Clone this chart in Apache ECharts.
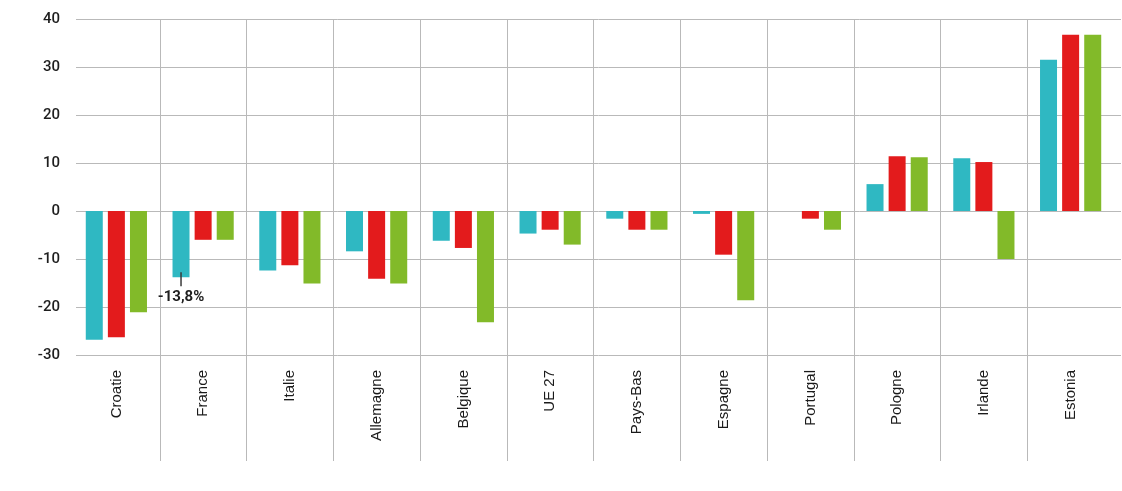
<!DOCTYPE html>
<html>
<head>
<meta charset="utf-8">
<script src="https://cdn.jsdelivr.net/npm/echarts@6/dist/echarts.min.js"></script>
<style>
  html, body { margin: 0; padding: 0; background: #fff; }
  #chart { width: 1122px; height: 491px; }
</style>
</head>
<body>
<div id="chart"></div>
<script>
// Countries along the category axis
const categories = ['Croatie', 'France', 'Italie', 'Allemagne', 'Belgique', 'UE 27',
  'Pays-Bas', 'Espagne', 'Portugal', 'Pologne', 'Irlande', 'Estonia'];

// Three series of changes (%), one bar colour each
const seriesTeal  = [-26.8, -13.8, -12.4, -8.4, -6.2, -4.7, -1.6, -0.6, 0, 5.6, 11.0, 31.5];
const seriesRed   = [-26.3, -6.0, -11.3, -14.1, -7.7, -3.9, -3.9, -9.1, -1.6, 11.4, 10.2, 36.7];
const seriesGreen = [-21.1, -6.0, -15.1, -15.1, -23.2, -7.0, -3.9, -18.6, -3.9, 11.2, -10.0, 36.7];

// Value axis range and ticks
const yMin = -30, yMax = 40, yStep = 10;

// Annotated point: France, first series
const noteIndex = 1;
const noteText = '-13,8%';

const colors = ['#2fb8c2', '#e31b1c', '#82ba29'];
const gridLine = '#b9b9b9';

const chart = echarts.init(document.getElementById('chart'), null, { renderer: 'canvas' });

const tealData = seriesTeal.map((v, i) => {
  if (i !== noteIndex) return v;
  return {
    value: v,
    label: {
      show: true,
      position: 'bottom',
      distance: -5,
      formatter: '{l|}\n{t|' + noteText + '}',
      rich: {
        l: { width: 1.5, height: 14, backgroundColor: '#3a3a3a' },
        t: { fontFamily: 'Roboto', fontWeight: 'bold', fontSize: 15, color: '#1e1e1e', lineHeight: 18, padding: [4, 0, 0, 0] }
      }
    }
  };
});

const barCommon = {
  type: 'bar',
  xAxisIndex: 0,
  yAxisIndex: 0,
  barWidth: 17,
  barGap: '30%',
  silent: true,
  animation: false
};

chart.setOption({
  animation: false,
  grid: [
    // bars
    { left: 73, right: 8, top: 19, bottom: 136 },
    // horizontal rules and value labels
    { left: 76, right: 1, top: 19, bottom: 136 },
    // category separators, running down past the labels
    { left: 73, right: 8, top: 19, bottom: 30 }
  ],
  xAxis: [
    {
      gridIndex: 0, type: 'category', data: categories,
      axisLine: { show: false }, axisTick: { show: false },
      axisLabel: { rotate: 90, margin: 15, fontFamily: 'Liberation Sans', fontSize: 15, color: '#1a1a1a' },
      splitLine: { show: false }
    },
    {
      gridIndex: 1, type: 'category', data: categories, show: false
    },
    {
      gridIndex: 2, type: 'category', data: categories,
      axisLine: { show: false }, axisTick: { show: false }, axisLabel: { show: false },
      splitLine: { show: true, interval: 0, showMinLine: false, showMaxLine: false,
        lineStyle: { color: gridLine, width: 1 } }
    }
  ],
  yAxis: [
    {
      gridIndex: 0, type: 'value', min: yMin, max: yMax, interval: yStep,
      axisLabel: { show: false }, axisLine: { show: false }, axisTick: { show: false },
      splitLine: { show: false }
    },
    {
      gridIndex: 1, type: 'value', min: yMin, max: yMax, interval: yStep,
      axisLine: { show: false }, axisTick: { show: false },
      axisLabel: { margin: 16, fontFamily: 'Roboto', fontWeight: 500, fontSize: 15, color: '#1e1e1e' },
      splitLine: { show: true, lineStyle: { color: gridLine, width: 1 } }
    },
    {
      gridIndex: 2, type: 'value', min: 0, max: 1, show: false
    }
  ],
  series: [
    Object.assign({}, barCommon, { name: 'a', data: tealData, itemStyle: { color: colors[0] }, z: 3 }),
    Object.assign({}, barCommon, { name: 'b', data: seriesRed, itemStyle: { color: colors[1] } }),
    Object.assign({}, barCommon, { name: 'c', data: seriesGreen, itemStyle: { color: colors[2] } })
  ]
});
</script>
</body>
</html>
